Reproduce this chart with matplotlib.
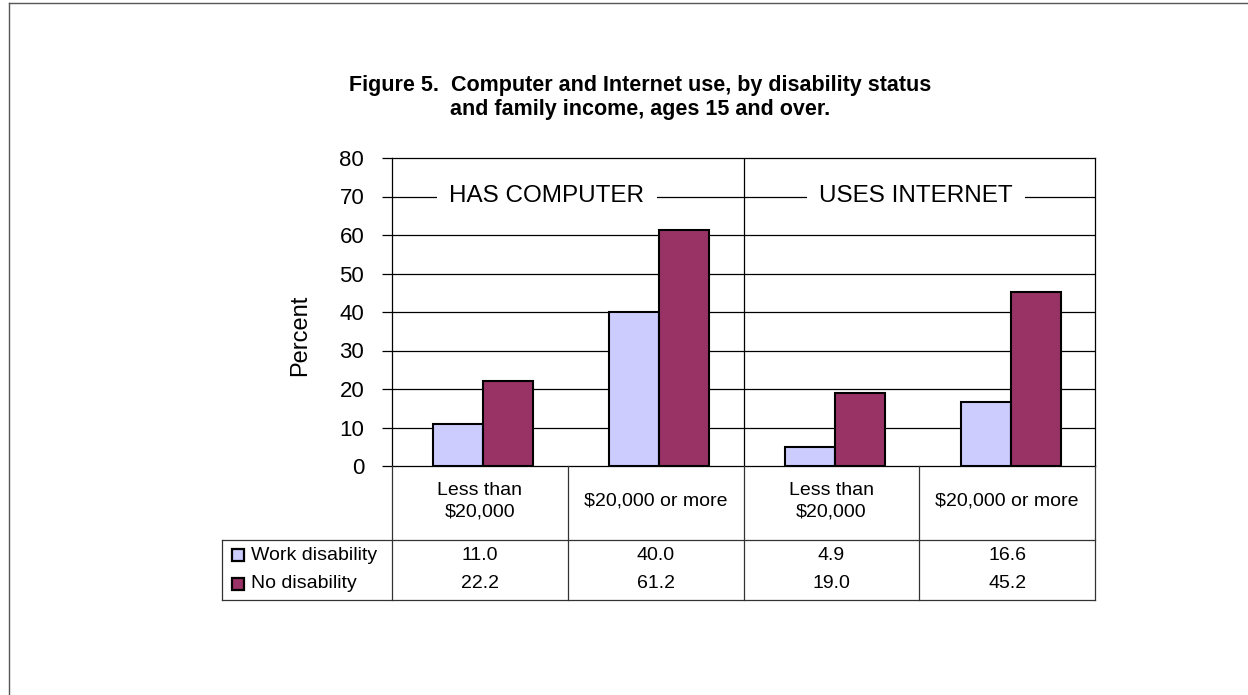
import matplotlib
matplotlib.use("Agg")
import matplotlib.pyplot as plt
from matplotlib import font_manager
from matplotlib.lines import Line2D
from matplotlib.transforms import blended_transform_factory

categories = ["Less than\n$20,000", "$20,000 or more", "Less than\n$20,000", "$20,000 or more"]
work_disability = [11.0, 40.0, 4.9, 16.6]
no_disability = [22.2, 61.2, 19.0, 45.2]
series_names = ["Work disability", "No disability"]
panel_labels = ["HAS COMPUTER", "USES INTERNET"]
yticks = [0, 10, 20, 30, 40, 50, 60, 70, 80]

names = {f.name for f in font_manager.fontManager.ttflist}
narrow = "Liberation Sans Narrow" if "Liberation Sans Narrow" in names else "Liberation Sans"
regular = "Liberation Sans"

W, H = 1248, 695
fig = plt.figure(figsize=(W / 100, H / 100), dpi=100)


def fx(px):
    return px / W


def fy(py):
    return 1 - py / H


ax = fig.add_axes([fx(392), fy(466), fx(1095 - 392), (466 - 158) / H])
ax.set_xlim(-0.5, 3.5)
ax.set_ylim(0, 80)

c_work = "#CCCCFF"
c_no = "#993366"
bw = 0.285
x = list(range(len(categories)))
ax.bar([i - bw / 2 + 0.02 for i in x], work_disability, bw, color=c_work, edgecolor="black", linewidth=1.5, zorder=3)
ax.bar([i + bw / 2 + 0.02 for i in x], no_disability, bw, color=c_no, edgecolor="black", linewidth=1.5, zorder=3)

for t in yticks[1:-1]:
    ax.axhline(t, color="black", linewidth=0.9, zorder=1)
ax.axvline(1.5, color="black", linewidth=0.9, zorder=1)

ax.set_yticks(yticks)
ax.set_xticks([])
ax.tick_params(axis="y", length=7, width=0.9, labelsize=16, pad=13)
for lab in ax.get_yticklabels():
    lab.set_fontfamily(regular)
for s in ax.spines.values():
    s.set_linewidth(0.9)

# panel headings sit on the 70 gridline, the line broken around them
for xp, lab in zip([0.38, 2.48], panel_labels):
    ax.text(xp, 70, lab, ha="center", va="center", fontsize=17.5, family=regular,
            bbox=dict(facecolor="white", edgecolor="none", pad=9), zorder=2)

fig.text(fx(300), fy(335), "Percent", rotation=90, ha="center", va="center", fontsize=17, family=regular)

fig.text(fx(640), fy(86), "Figure 5.  Computer and Internet use, by disability status",
         ha="center", va="center", fontsize=15.5, fontweight="bold", family=narrow)
fig.text(fx(640), fy(110), "and family income, ages 15 and over.",
         ha="center", va="center", fontsize=15.5, fontweight="bold", family=narrow)

# data table under the chart
tr = blended_transform_factory(ax.transData, fig.transFigure)
lc = "#333333"
for xv in [-0.5, 0.5, 1.5, 2.5, 3.5]:
    fig.add_artist(Line2D([xv, xv], [fy(466), fy(600)], transform=tr, color=lc, linewidth=0.9))
fig.add_artist(Line2D([fx(222), fx(1095)], [fy(540), fy(540)], color=lc, linewidth=0.9))
fig.add_artist(Line2D([fx(222), fx(1095)], [fy(600), fy(600)], color=lc, linewidth=0.9))
fig.add_artist(Line2D([fx(222), fx(222)], [fy(540), fy(600)], color=lc, linewidth=0.9))

for i, cat in enumerate(categories):
    fig.text(i, fy(501), cat, transform=tr, ha="center", va="center", fontsize=14,
             family=narrow, linespacing=1.35)
    fig.text(i, fy(555), f"{work_disability[i]:.1f}", transform=tr, ha="center", va="center",
             fontsize=14, family=narrow)
    fig.text(i, fy(584), f"{no_disability[i]:.1f}", transform=tr, ha="center", va="center",
             fontsize=14, family=narrow)

for (name, col, yy) in [(series_names[0], c_work, 555), (series_names[1], c_no, 584)]:
    fig.add_artist(Line2D([fx(238)], [fy(yy)], marker="s", markersize=8.5, markerfacecolor=col,
                          markeredgecolor="black", markeredgewidth=1.6, linestyle="none"))
    fig.text(fx(251), fy(yy), name, ha="left", va="center", fontsize=14, family=narrow)

# outer frame
fig.add_artist(Line2D([fx(9), 1], [fy(3), fy(3)], color="#555555", linewidth=1))
fig.add_artist(Line2D([fx(9), fx(9)], [fy(3), 0], color="#555555", linewidth=1))

fig.savefig("out.png", dpi=100)
